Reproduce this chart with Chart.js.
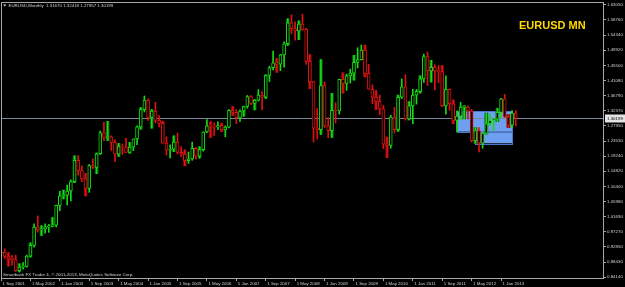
<!DOCTYPE html>
<html>
<head>
<meta charset="utf-8">
<script src="https://cdn.jsdelivr.net/npm/chart.js@4.4.0/dist/chart.umd.min.js"></script>
<style>
  html, body { margin: 0; padding: 0; background: #000; }
  #wrap { width: 625px; height: 287px; }
</style>
</head>
<body>
<div id="wrap"><canvas id="c" width="625" height="287"></canvas></div>
<script>
// EURUSD monthly, Sep 2001 .. May 2013 (141 bars), then empty space to the right
const monthNames = ['Jan', 'Feb', 'Mar', 'Apr', 'May', 'Jun', 'Jul', 'Aug', 'Sep', 'Oct', 'Nov', 'Dec'];
const months = [];
for (let k = 0; k < 165; k++) {
    months.push(monthNames[(8 + k) % 12] + ' ' + (2001 + Math.floor((8 + k) / 12)));
}

const open = [
    0.9110, 0.9135, 0.9010, 0.8960, 0.8920, 0.8600, 0.8700, 0.8720, 0.9020, 0.9330,
    0.9860, 0.9780, 0.9800, 0.9870, 0.9890, 0.9920, 1.0490, 1.0770, 1.0790, 1.0910,
    1.1180, 1.1800, 1.1500, 1.1260, 1.0985, 1.1650, 1.1590, 1.1990, 1.2595, 1.2460,
    1.2480, 1.2320, 1.1980, 1.2200, 1.2180, 1.2030, 1.2180, 1.2420, 1.2770, 1.3270,
    1.3550, 1.3040, 1.3230, 1.2960, 1.2870, 1.2300, 1.2090, 1.2120, 1.2330, 1.2030,
    1.1980, 1.1790, 1.1840, 1.2150, 1.1920, 1.2110, 1.2620, 1.2800, 1.2790, 1.2760,
    1.2810, 1.2680, 1.2760, 1.3250, 1.3190, 1.3030, 1.3230, 1.3360, 1.3650, 1.3450,
    1.3540, 1.3690, 1.3630, 1.4260, 1.4485, 1.4630, 1.4590, 1.4860, 1.5180, 1.5790,
    1.5620, 1.5550, 1.5750, 1.5600, 1.4670, 1.4080, 1.2730, 1.2690, 1.3970, 1.2800,
    1.2660, 1.3250, 1.3230, 1.4150, 1.4030, 1.4250, 1.4330, 1.4640, 1.4720, 1.5000,
    1.4320, 1.3860, 1.3630, 1.3510, 1.3290, 1.2270, 1.2230, 1.3050, 1.2690, 1.3630,
    1.3930, 1.3000, 1.3380, 1.3690, 1.3800, 1.4160, 1.4810, 1.4390, 1.4500, 1.4390,
    1.4370, 1.3380, 1.3860, 1.3440, 1.2960, 1.3080, 1.3340, 1.3345, 1.3230, 1.2370,
    1.2660, 1.2300, 1.2580, 1.2860, 1.2960, 1.2990, 1.3190, 1.3580, 1.3060, 1.2820,
    1.31670
];
const high = [
    0.9330, 0.9230, 0.9120, 0.9040, 0.9045, 0.8800, 0.8835, 0.9050, 0.9405, 0.9953,
    1.0185, 0.9905, 0.9960, 0.9940, 1.0140, 1.0500, 1.0900, 1.0935, 1.1080, 1.1230,
    1.1930, 1.1935, 1.1640, 1.1420, 1.1680, 1.1840, 1.2010, 1.2650, 1.2900, 1.2930,
    1.2510, 1.2390, 1.2290, 1.2270, 1.2435, 1.2320, 1.2420, 1.2800, 1.3330, 1.3665,
    1.3580, 1.3270, 1.3480, 1.3095, 1.2935, 1.2480, 1.2250, 1.2510, 1.2590, 1.2200,
    1.2100, 1.2040, 1.2325, 1.2165, 1.2195, 1.2625, 1.2980, 1.2920, 1.2890, 1.2915,
    1.2880, 1.2800, 1.3270, 1.3365, 1.3270, 1.3265, 1.3370, 1.3680, 1.3680, 1.3560,
    1.3850, 1.3790, 1.4280, 1.4525, 1.4965, 1.4755, 1.4875, 1.5240, 1.5905, 1.6020,
    1.5815, 1.5845, 1.6040, 1.5630, 1.4865, 1.4090, 1.3300, 1.4720, 1.4075, 1.3040,
    1.3740, 1.3470, 1.4155, 1.4340, 1.4300, 1.4445, 1.4845, 1.5065, 1.5145, 1.5140,
    1.4580, 1.3990, 1.3820, 1.3690, 1.3390, 1.2475, 1.3105, 1.3335, 1.3690, 1.4160,
    1.4280, 1.3500, 1.3860, 1.3860, 1.4250, 1.4880, 1.4940, 1.4700, 1.4580, 1.4550,
    1.4550, 1.4250, 1.3870, 1.3550, 1.3235, 1.3485, 1.3385, 1.3380, 1.3280, 1.2750,
    1.2750, 1.2600, 1.3170, 1.3140, 1.3020, 1.3310, 1.3600, 1.3710, 1.3130, 1.3240,
    1.32418
];
const low = [
    0.8990, 0.8950, 0.8730, 0.8760, 0.8575, 0.8560, 0.8640, 0.8700, 0.8990, 0.9280,
    0.9715, 0.9615, 0.9685, 0.9710, 0.9868, 0.9865, 1.0335, 1.0680, 1.0505, 1.0620,
    1.1150, 1.1365, 1.1180, 1.0765, 1.0870, 1.1560, 1.1410, 1.1965, 1.2370, 1.2370,
    1.2085, 1.1760, 1.1910, 1.1970, 1.2025, 1.2005, 1.2080, 1.2250, 1.2700, 1.3200,
    1.2955, 1.2730, 1.2880, 1.2770, 1.2300, 1.1950, 1.1870, 1.2050, 1.1985, 1.1910,
    1.1640, 1.1710, 1.1800, 1.1830, 1.1860, 1.2065, 1.2600, 1.2460, 1.2520, 1.2690,
    1.2630, 1.2480, 1.2740, 1.3100, 1.2865, 1.2930, 1.3075, 1.3310, 1.3410, 1.3260,
    1.3520, 1.3260, 1.3590, 1.4085, 1.4425, 1.4350, 1.4400, 1.4500, 1.5130, 1.5475,
    1.5285, 1.5300, 1.5570, 1.4585, 1.3880, 1.2330, 1.2420, 1.2550, 1.2750, 1.2455,
    1.2460, 1.2885, 1.3140, 1.3750, 1.3830, 1.4040, 1.4125, 1.4480, 1.4710, 1.4220,
    1.3860, 1.3445, 1.3270, 1.3115, 1.2140, 1.1875, 1.2150, 1.2590, 1.2640, 1.3590,
    1.2965, 1.2970, 1.2860, 1.3430, 1.3750, 1.4060, 1.3970, 1.4070, 1.3840, 1.4050,
    1.3360, 1.3140, 1.3250, 1.2860, 1.2625, 1.2970, 1.3000, 1.3000, 1.2330, 1.2290,
    1.2040, 1.2150, 1.2560, 1.2800, 1.2660, 1.2925, 1.3040, 1.3040, 1.2750, 1.2745,
    1.27957
];
const close = [
    0.9135, 0.9010, 0.8960, 0.8920, 0.8600, 0.8700, 0.8720, 0.9020, 0.9330, 0.9860,
    0.9780, 0.9800, 0.9870, 0.9890, 0.9920, 1.0490, 1.0770, 1.0790, 1.0910, 1.1180,
    1.1800, 1.1500, 1.1260, 1.0985, 1.1650, 1.1590, 1.1990, 1.2595, 1.2460, 1.2480,
    1.2320, 1.1980, 1.2200, 1.2180, 1.2030, 1.2180, 1.2420, 1.2770, 1.3270, 1.3550,
    1.3040, 1.3230, 1.2960, 1.2870, 1.2300, 1.2090, 1.2120, 1.2330, 1.2030, 1.1980,
    1.1790, 1.1840, 1.2150, 1.1920, 1.2110, 1.2620, 1.2800, 1.2790, 1.2760, 1.2810,
    1.2680, 1.2760, 1.3250, 1.3190, 1.3030, 1.3230, 1.3360, 1.3650, 1.3450, 1.3540,
    1.3690, 1.3630, 1.4260, 1.4485, 1.4630, 1.4590, 1.4860, 1.5180, 1.5790, 1.5620,
    1.5550, 1.5750, 1.5600, 1.4670, 1.4080, 1.2730, 1.2690, 1.3970, 1.2800, 1.2660,
    1.3250, 1.3230, 1.4150, 1.4030, 1.4250, 1.4330, 1.4640, 1.4720, 1.5000, 1.4320,
    1.3860, 1.3630, 1.3510, 1.3290, 1.2270, 1.2230, 1.3050, 1.2690, 1.3630, 1.3930,
    1.3000, 1.3380, 1.3690, 1.3800, 1.4160, 1.4810, 1.4390, 1.4500, 1.4390, 1.4370,
    1.3380, 1.3860, 1.3440, 1.2960, 1.3080, 1.3340, 1.3345, 1.3230, 1.2370, 1.2660,
    1.2300, 1.2580, 1.2860, 1.2960, 1.2990, 1.3190, 1.3580, 1.3060, 1.2820, 1.31670,
    1.30199
];

// bars that have their whole high-low range shaded dark behind the candle
const shadeBars = [
    2, 5, 8, 11, 14, 17, 20, 23, 26, 29, 32, 35, 38, 41, 44, 47, 50,
    54, 57, 60, 63, 66, 69, 72, 75, 78, 81, 84, 87, 90, 93, 96, 99,
    102, 105, 108, 111, 114, 117, 120, 123, 126, 129, 132, 135, 138
];

const xTickLabels = [
    '1 Sep 2001', '1 May 2002', '1 Jan 2003', '1 Sep 2003', '1 May 2004', '1 Jan 2005',
    '1 Sep 2005', '1 May 2006', '1 Jan 2007', '1 Sep 2007', '1 May 2008', '1 Jan 2009',
    '1 Sep 2009', '1 May 2010', '1 Jan 2011', '1 Sep 2011', '1 May 2012', '1 Jan 2013'
];
const yTickValues = [
    1.63050, 1.58760, 1.54340, 1.49920, 1.45500, 1.41080, 1.36790, 1.32370, 1.27950, 1.23530,
    1.19240, 1.14820, 1.10400, 1.05980, 1.01690, 0.97270, 0.92850, 0.88430, 0.84140
];
const bidPrice = 1.30199;

// rectangles drawn on the chart (time from/to, price top/bottom)
const zoneFrom = ['Jan 2012', 'Jun 2012'];
const zoneTo = ['Apr 2013', 'Apr 2013'];
const zoneTop = [1.3230, 1.2630];
const zoneBottom = [1.2630, 1.2293];

const UP = '#14dc14';
const DOWN = '#e01010';
const FONT = "'Liberation Sans', Arial, sans-serif";
const TXT = '#d0d0d0';
const FRAME = '#a8a8a8';

const n = open.length;
const isUp = i => close[i] >= open[i];
const candleColor = months.map((m, i) => i < n ? (isUp(i) ? UP : DOWN) : UP);
const shadeColor = months.map((m, i) => i < n && isUp(i) ? '#0a5e0a' : '#6a0a0a');

const mtPlugin = {
    id: 'mt',
    beforeDatasetsDraw(chart) {
        const { ctx, chartArea: a, scales: { x, y } } = chart;
        ctx.save();
        // rectangles
        for (let k = 0; k < zoneFrom.length; k++) {
            const x0 = x.getPixelForValue(months.indexOf(zoneFrom[k]));
            const x1 = x.getPixelForValue(months.indexOf(zoneTo[k]));
            const y0 = y.getPixelForValue(zoneTop[k]);
            const y1 = y.getPixelForValue(zoneBottom[k]);
            ctx.fillStyle = '#6e9ff0';
            ctx.fillRect(x0, y0, x1 - x0, y1 - y0);
            ctx.strokeStyle = '#4676cc';
            ctx.lineWidth = 1;
            ctx.strokeRect(Math.round(x0) + 0.5, Math.round(y0) + 0.5, Math.round(x1 - x0), Math.round(y1 - y0));
        }
        // bid line
        const by = Math.round(y.getPixelForValue(bidPrice)) + 0.5;
        ctx.strokeStyle = '#7a8699';
        ctx.beginPath();
        ctx.moveTo(a.left, by);
        ctx.lineTo(a.right, by);
        ctx.stroke();
        ctx.restore();
    },
    afterDraw(chart) {
        const { ctx, chartArea: a, scales: { y } } = chart;
        ctx.save();
        // frame
        ctx.strokeStyle = FRAME;
        ctx.lineWidth = 1;
        ctx.strokeRect(Math.round(a.left) + 0.5, Math.round(a.top) + 0.5,
            Math.round(a.right - a.left) - 1, Math.round(a.bottom - a.top));
        // header
        ctx.fillStyle = TXT;
        ctx.font = '4.4px ' + FONT;
        ctx.textBaseline = 'middle';
        ctx.beginPath();
        ctx.moveTo(3, 4.5); ctx.lineTo(6.5, 4.5); ctx.lineTo(4.75, 6.5); ctx.closePath();
        ctx.fill();
        ctx.fillText('EURUSD,Monthly  1.31670 1.32418 1.27957 1.30199', 8.5, 5.5);
        ctx.fillText('Smartbank FX Trader 4, \u00a9 2001-2013, MetaQuotes Software Corp.', 3, 275);
        // symbol label
        ctx.fillStyle = '#ffd800';
        ctx.font = 'bold 11px ' + FONT;
        ctx.fillText('EURUSD MN', 519, 25.5);
        // bid box on the price scale
        const by = Math.round(y.getPixelForValue(bidPrice));
        ctx.fillStyle = '#e4e4e4';
        ctx.fillRect(a.right + 1, by - 3.5, 21, 8);
        ctx.fillStyle = '#000';
        ctx.font = '4.4px ' + FONT;
        ctx.fillText(bidPrice.toFixed(5), a.right + 3, by + 0.5);
        ctx.restore();
    }
};

new Chart(document.getElementById('c'), {
    type: 'bar',
    data: {
        labels: months,
        datasets: [
            {
                label: 'shade',
                data: months.map((m, i) => i < n && shadeBars.includes(i) ? [low[i], high[i]] : null),
                backgroundColor: shadeColor,
                barThickness: 3,
                grouped: false,
                order: 3
            },
            {
                label: 'wick',
                data: months.map((m, i) => i < n ? [low[i], high[i]] : null),
                backgroundColor: candleColor,
                barThickness: 1,
                grouped: false,
                order: 2
            },
            {
                label: 'body',
                data: months.map((m, i) => i < n ? [open[i], close[i]] : null),
                backgroundColor: '#000',
                borderColor: candleColor,
                borderWidth: 1,
                borderSkipped: false,
                minBarLength: 1,
                barThickness: 3,
                grouped: false,
                order: 1
            }
        ]
    },
    options: {
        responsive: false,
        animation: false,
        devicePixelRatio: 1,
        layout: { padding: { top: 2, left: 1, right: 0, bottom: 0 } },
        plugins: { legend: { display: false }, tooltip: { enabled: false } },
        scales: {
            x: {
                offset: false,
                grid: {
                    offset: false,
                    drawOnChartArea: false,
                    tickLength: 3,
                    color: ctx => (ctx.index % 8 === 0 && ctx.index <= 136) ? FRAME : 'rgba(0,0,0,0)'
                },
                border: { display: false },
                ticks: {
                    autoSkip: false,
                    maxRotation: 0,
                    minRotation: 0,
                    align: 'start',
                    labelOffset: 1.5,
                    padding: 0,
                    color: TXT,
                    font: { family: FONT, size: 4.4 },
                    callback: (v, i) => (i % 8 === 0 && xTickLabels[i / 8]) ? xTickLabels[i / 8] : ''
                },
                afterFit: s => { s.height = 9; s.paddingLeft = 0; s.paddingRight = 0; }
            },
            y: {
                position: 'right',
                min: 0.8385,
                max: 1.6392,
                grid: { drawOnChartArea: false, tickLength: 2, color: FRAME },
                border: { display: false },
                afterBuildTicks: s => { s.ticks = yTickValues.map(v => ({ value: v })); },
                ticks: {
                    padding: 1,
                    color: TXT,
                    font: { family: FONT, size: 4.4 },
                    callback: v => v.toFixed(5)
                },
                afterFit: s => { s.width = 21; s.paddingTop = 0; s.paddingBottom = 0; }
            }
        }
    },
    plugins: [mtPlugin]
});
</script>
</body>
</html>
